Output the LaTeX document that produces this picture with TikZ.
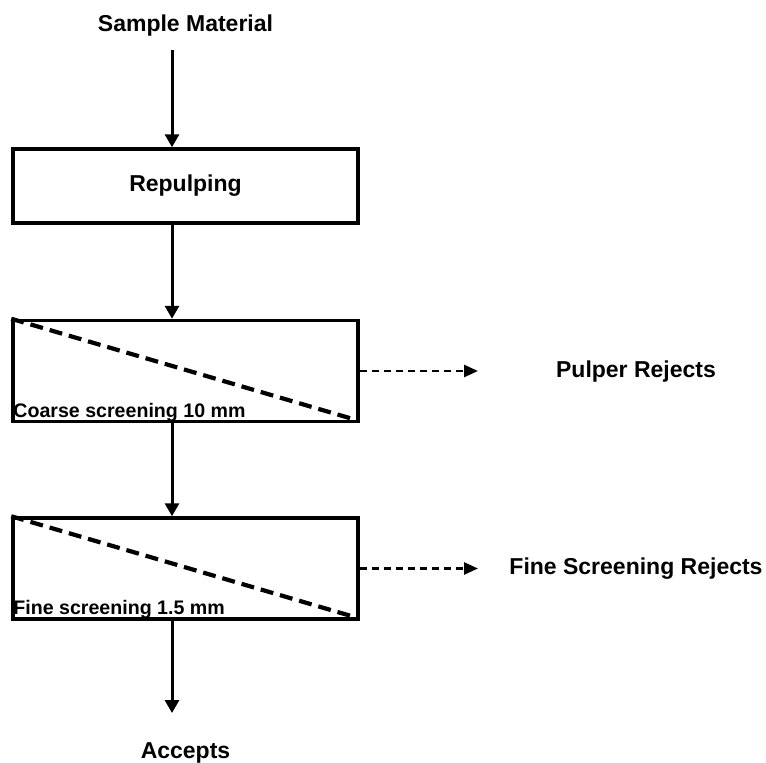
\documentclass[tikz,border=0pt]{standalone}
\usepackage{fontspec}
\setmainfont{Liberation Sans}
\usepackage{tikz}
\usetikzlibrary{arrows.meta,positioning}

\newcommand{\labelfont}{\fontsize{23}{27}\selectfont\bfseries}
\newcommand{\sievefont}{\fontsize{19.6}{23}\selectfont\bfseries}

\begin{document}
\begin{tikzpicture}[x=1pt,y=-1pt]
\tikzset{stage/.style = {draw,line width=3.5pt,minimum width=345pt,inner sep=0pt,font=\labelfont}}
\tikzset{caption/.style = {anchor=base,inner sep=0pt,font=\labelfont}}
\tikzset{sievelabel/.style = {anchor=base west,inner sep=0pt,font=\sievefont}}
\tikzset{flow/.style = {-{Triangle[length=13pt,width=14pt]},line width=3pt}}
\tikzset{reject/.style = {-{Triangle[length=14pt,width=12pt]},line width=2.6pt,dash pattern=on 7pt off 5pt}}
\tikzset{sieve/.style = {line width=4.2pt,dash pattern=on 13pt off 7pt}}
\useasboundingbox (0,0) rectangle (766,763);
\node[caption] (sample) at (185.5,31) {Sample Material};
\node[stage,minimum height=74pt] (rep) at (185.5,186) {Repulping};
\node[stage,minimum height=101pt] (coarse) at (185.5,371) {};
\node[stage,minimum height=101pt] (fine) at (185.5,568.5) {};
\node[caption] (accepts) at (185.5,758) {Accepts};
\node[caption] (pulper) at (636,377) {Pulper Rejects};
\node[caption] (finerej) at (636,574) {Fine Screening Rejects};
\node[sievelabel] (coarselbl) at ([xshift=2pt,yshift=6pt]coarse.south west) {Coarse screening 10 mm};
\node[sievelabel] (finelbl) at ([xshift=2pt,yshift=6pt]fine.south west) {Fine screening 1.5 mm};
\coordinate (feed) at (172,50);
\coordinate (out) at (172,713);
\coordinate (pr) at (478,371);
\coordinate (fr) at (478,568.5);
% screens
\draw[sieve] (coarse.north west) -- ([xshift=-6pt,yshift=4pt]coarse.south east);
\draw[sieve] (fine.north west) -- ([xshift=-6pt,yshift=4pt]fine.south east);
% main flow
\draw[flow] (feed) -- ([xshift=-13.5pt]rep.north);
\draw[flow] ([xshift=-13.5pt]rep.south) -- ([xshift=-13.5pt]coarse.north);
\draw[flow] ([xshift=-13.5pt]coarse.south) -- ([xshift=-13.5pt]fine.north);
\draw[flow] ([xshift=-13.5pt]fine.south) -- (out);
% rejects
\draw[reject] (coarse.east) -- (pr);
\draw[reject] (fine.east) -- (fr);
\end{tikzpicture}
\end{document}
